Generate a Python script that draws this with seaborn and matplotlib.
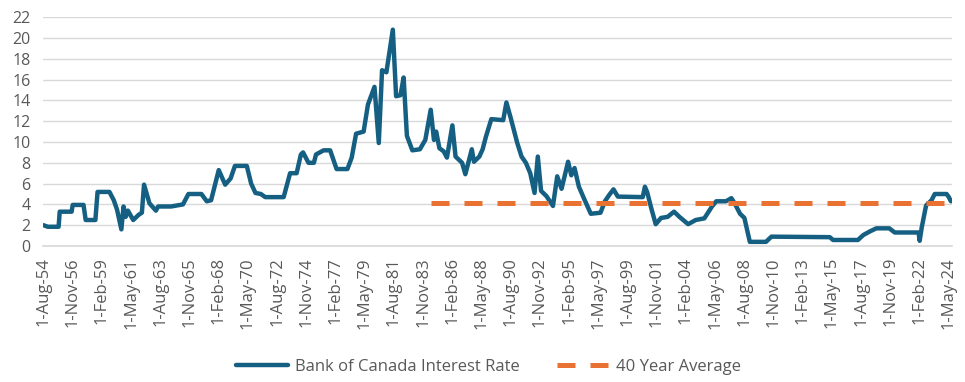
import pandas as pd
import numpy as np
import matplotlib
matplotlib.use("Agg")
import matplotlib.pyplot as plt
import seaborn as sns

# Bank of Canada rate, knots (month, %)
rate_dates = [
    "1954-08", "1954-12", "1955-10", "1955-11", "1956-10", "1956-11", "1957-09", "1957-11",
    "1958-08", "1958-10", "1959-09", "1960-01", "1960-04", "1960-08", "1960-10", "1960-12",
    "1961-02", "1961-07", "1961-12", "1962-03", "1962-05", "1962-10", "1963-04", "1963-06",
    "1964-06", "1965-05", "1965-10", "1966-10", "1967-03", "1967-07", "1968-02", "1968-08",
    "1969-01", "1969-05", "1970-04", "1970-08", "1970-12", "1971-05", "1971-09", "1973-02",
    "1973-08", "1974-02", "1974-06", "1974-08", "1975-01", "1975-06", "1975-08", "1976-03",
    "1976-09", "1977-03", "1978-01", "1978-05", "1978-09", "1979-04", "1979-08", "1980-02",
    "1980-06", "1980-09", "1981-01", "1981-07", "1981-10", "1982-02", "1982-05", "1982-08",
    "1983-01", "1983-08", "1984-01", "1984-06", "1984-09", "1984-11", "1985-02", "1985-06",
    "1985-09", "1986-02", "1986-05", "1986-11", "1987-02", "1987-08", "1987-10", "1988-03",
    "1988-06", "1988-09", "1989-02", "1990-01", "1990-04", "1990-08", "1991-02", "1991-06",
    "1991-10", "1992-02", "1992-06", "1992-09", "1992-12", "1993-05", "1993-11", "1994-03",
    "1994-07", "1995-01", "1995-04", "1995-07", "1995-11", "1996-04", "1996-10", "1997-07",
    "1997-11", "1998-03", "1998-07", "1998-11", "2000-10", "2000-12", "2001-02", "2001-06",
    "2001-10", "2002-03", "2002-09", "2003-03", "2003-08", "2004-04", "2004-11", "2005-07",
    "2006-02", "2006-06", "2007-03", "2007-08", "2007-11", "2008-04", "2008-08", "2009-01",
    "2010-04", "2010-09", "2015-03", "2015-06", "2017-05", "2017-10", "2018-04", "2018-10",
    "2019-10", "2020-03", "2022-01", "2022-02", "2022-04", "2022-08", "2023-01", "2023-04",
    "2024-03", "2024-05", "2024-07",
]
rate_values = [
    2.0, 1.85, 1.85, 3.3, 3.3, 3.95, 3.95, 2.5,
    2.5, 5.2, 5.2, 4.4, 3.5, 1.6, 3.8, 2.8,
    3.4, 2.5, 3.0, 3.2, 5.9, 4.1, 3.4, 3.8,
    3.8, 4.0, 5.0, 5.0, 4.3, 4.4, 7.3, 5.9,
    6.5, 7.7, 7.7, 6.0, 5.1, 5.0, 4.7, 4.7,
    7.0, 7.0, 8.8, 9.0, 8.0, 8.0, 8.8, 9.2,
    9.2, 7.4, 7.4, 8.5, 10.8, 11.0, 13.6, 15.3,
    9.9, 16.9, 16.7, 20.8, 14.4, 14.5, 16.2, 10.6,
    9.2, 9.3, 10.2, 13.1, 10.2, 11.0, 9.4, 9.1,
    8.5, 11.6, 8.6, 8.0, 6.9, 9.3, 8.1, 8.6,
    9.3, 10.5, 12.2, 12.1, 13.8, 12.3, 9.9, 8.6,
    8.0, 7.0, 5.1, 8.6, 5.3, 4.8, 3.85, 6.7,
    5.5, 8.1, 6.8, 7.5, 5.7, 4.5, 3.1, 3.2,
    4.3, 4.9, 5.45, 4.75, 4.7, 5.7, 5.2, 3.6,
    2.1, 2.7, 2.8, 3.3, 2.8, 2.1, 2.5, 2.66,
    3.8, 4.3, 4.3, 4.6, 4.1, 3.1, 2.7, 0.4,
    0.4, 0.9, 0.85, 0.58, 0.58, 1.06, 1.4, 1.7,
    1.7, 1.3, 1.3, 0.5, 1.8, 3.9, 4.4, 5.0,
    5.0, 4.7, 4.3,
]

avg_dates = ["1984-06", "2024-05"]
avg_values = [4.13, 4.13]

blue = "#156082"
orange = "#E97132"
grey_txt = "#595959"

sns.set_theme(style="white")
plt.rcParams["font.family"] = ["Open Sans", "DejaVu Sans"]

rate = pd.DataFrame({"date": pd.to_datetime(rate_dates), "rate": rate_values})
avg = pd.DataFrame({"date": pd.to_datetime(avg_dates), "rate": avg_values})

fig = plt.figure(figsize=(9.65, 3.82), dpi=100)
ax = fig.add_axes([0.0446, 0.356, 0.942, 0.599])

sns.lineplot(data=rate, x="date", y="rate", ax=ax, color=blue, lw=3.2,
             label="Bank of Canada Interest Rate")
sns.lineplot(data=avg, x="date", y="rate", ax=ax, color=orange, lw=3.6,
             label="40 Year Average")
ax.lines[-1].set_dashes((3.6, 3.0))

# axes
ax.set_ylim(0, 22)
ax.set_yticks(np.arange(0, 23, 2))
ax.set_xlim(pd.Timestamp("1954-07-20"), pd.Timestamp("2024-08-01"))
ticks = pd.date_range("1954-08-01", "2024-05-01", freq="27MS")
ax.set_xticks(ticks)
ax.set_xticklabels([f"{d.day}-{d.strftime('%b')}-{d.strftime('%y')}" for d in ticks],
                   rotation=90)
ax.grid(axis="y", color="#d9d9d9", lw=1)
ax.set_axisbelow(True)
for s in ["left", "right", "top"]:
    ax.spines[s].set_visible(False)
ax.spines["bottom"].set_color("#d9d9d9")
ax.tick_params(axis="x", length=5, color="#d9d9d9", colors=grey_txt, labelsize=12, pad=3)
ax.tick_params(axis="y", length=0, colors=grey_txt, labelsize=11.5, pad=9)
ax.set_xlabel("")
ax.set_ylabel("")

leg = ax.legend(loc="center", bbox_to_anchor=(0.49, -0.53), ncol=2, frameon=False,
                fontsize=12, handlelength=3.1, handletextpad=0.45, columnspacing=2.2,
                labelcolor=grey_txt)

fig.savefig("out.png", dpi=100)
